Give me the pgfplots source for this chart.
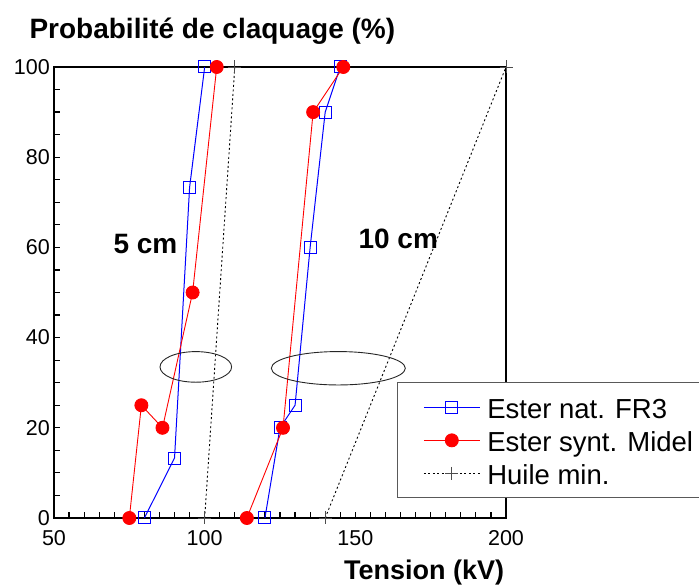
\documentclass[border=0pt]{standalone}
\usepackage{fontspec}
\setmainfont{Liberation Sans}
\usepackage{pgfplots}
\pgfplotsset{compat=1.18}

\begin{document}
\begin{tikzpicture}
\useasboundingbox (-54pt,-68pt) rectangle (645pt,518pt);
\clip (-54pt,-68pt) rectangle (645pt,518pt);
\begin{axis}[
    at={(0pt,0pt)}, anchor=south west,
    scale only axis, width=452pt, height=451pt,
    xmin=50, xmax=200, ymin=0, ymax=100,
    xtick={50,100,150,200}, ytick={0,20,40,60,80,100},
    minor x tick num=9, minor y tick num=3,
    tick pos=left, tick align=inside,
    major tick length=6pt, minor tick length=6pt,
    tick style={black, line width=1.2pt},
    axis line style={line width=2.2pt},
    clip=false,
    /pgf/number format/assume math mode=true,
    ticklabel style={font=\fontsize{21.5}{25}\selectfont, inner sep=0pt},
    xticklabel style={anchor=north, yshift=-12.7pt},
    yticklabel style={anchor=east, xshift=-4pt},
    xlabel={Tension (kV)},
    every axis x label/.style={at={(axis description cs:0.819,-0.136)}, anchor=base, inner sep=0pt,
        font=\fontsize{27}{32}\selectfont\bfseries},
    ylabel={Probabilité de claquage (\%)},
    every axis y label/.style={at={(axis description cs:-0.0546,1.0636)}, anchor=base west, inner sep=0pt,
        font=\fontsize{28}{33}\selectfont\bfseries},
    legend cell align=left,
    legend image code/.code={\draw[mark repeat=2,mark phase=2,#1] plot coordinates {(0pt,0pt) (28pt,0pt) (56pt,0pt)};},
    legend style={at={(0.7595,0.301)}, anchor=north west, draw=black!65, line width=1.2pt, fill=white,
        inner xsep=25.4pt, inner ysep=8pt, font=\fontsize{27.5}{33}\selectfont, row sep=0pt,
        nodes={inner sep=0pt, text height=28pt, text depth=5pt},
        /tikz/every odd column/.append style={column sep=7pt}},
]

% Ester naturel FR3
\addplot[blue, line width=1pt, mark=square, mark size=6pt, mark options={solid, draw=blue}]
    coordinates {(80,0) (90,13.3) (95,73.3) (100,100)};
\addplot[blue, line width=1pt, mark=square, mark size=6pt, mark options={solid, draw=blue}, forget plot]
    coordinates {(120,0) (125,20) (130,25) (135,60) (140,90) (145,100)};

% Ester synthetique Midel
\addplot[red, line width=0.9pt, mark=*, mark size=6.5pt, mark options={solid, draw=red, fill=red}]
    coordinates {(75,0) (79,25) (86,20) (96,50) (104,100)};
\addplot[red, line width=0.9pt, mark=*, mark size=6.5pt, mark options={solid, draw=red, fill=red}, forget plot]
    coordinates {(114,0) (126,20) (136,90) (146,100)};

% Huile minerale
\addplot[draw=black, line width=0.9pt, dash pattern=on 2pt off 2.5pt, mark=+, mark size=6.5pt,
    mark options={solid, draw=black!70, line width=0.9pt}]
    coordinates {(100,0) (110,100)};
\addplot[draw=black, line width=0.9pt, dash pattern=on 2pt off 2.5pt, mark=+, mark size=6.5pt,
    mark options={solid, draw=black!70, line width=0.9pt}, forget plot]
    coordinates {(140,0) (200,100)};

\draw[black!85, line width=0.9pt] (axis cs:97.06,33.5) ellipse [x radius=35.8pt, y radius=15.3pt];
\draw[black!85, line width=0.9pt] (axis cs:144.36,33.2) ellipse [x radius=67pt, y radius=16.7pt];

\node[anchor=base west, inner sep=0pt, font=\fontsize{28}{33}\selectfont\bfseries] at (axis cs:69.68,58.7) {5 cm};
\node[anchor=base west, inner sep=0pt, font=\fontsize{28}{33}\selectfont\bfseries] at (axis cs:151.0,59.8) {10 cm};

\legend{Ester nat. FR3, Ester synt. Midel, Huile min.}
\end{axis}
\end{tikzpicture}
\end{document}
